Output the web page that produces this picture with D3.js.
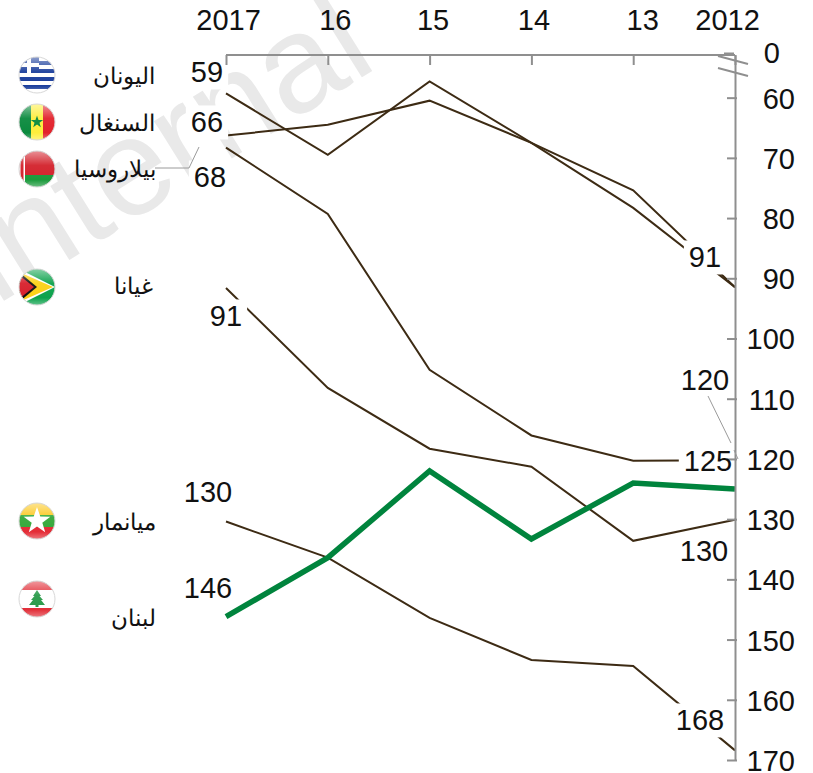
<!DOCTYPE html>
<html lang="ar">
<head>
<meta charset="UTF-8">
<title>chart</title>
<script src="https://cdnjs.cloudflare.com/ajax/libs/d3/7.8.5/d3.min.js"></script>
<style>
    html, body { margin: 0; padding: 0; background: #fff; }
    svg { display: block; }
    text { font-family: "Liberation Sans", Arial, sans-serif; fill: #111; }
</style>
</head>
<body>
<svg width="813" height="773"></svg>
<script>
    const years = ["2017", "16", "15", "14", "13", "2012"];
    const yTicks = [0, 60, 70, 80, 90, 100, 110, 120, 130, 140, 150, 160, 170];

    const greece = [59.3, 69.5, 57.3, 67.5, 75.4, 91.5];
    const senegal = [66.3, 64.5, 60.5, 67.5, 78.3, 91.5];
    const belarus = [68.3, 79.3, 105.2, 116.1, 120.3, 120.2];
    const guyana = [91.6, 108.2, 118.3, 121.3, 133.6, 130.1];
    const myanmar = [130.4, 136.4, 146.4, 153.4, 154.4, 168.4];
    const lebanon = [146.2, 136.4, 122, 133.3, 124, 125];

    const countries = ["اليونان", "السنغال", "بيلاروسيا", "غيانا", "ميانمار", "لبنان"];
    const startLabels = ["59", "66", "68", "91", "130", "146"];
    const endLabels = ["91", "120", "125", "130", "168"];

    const svg = d3.select("svg");

    const x = d3.scalePoint().domain(years).range([226, 735]);
    // axis is broken between 0 and about 53
    const y = d3.scaleLinear().domain([0, 53, 170]).range([55, 55.5, 760]);

    // watermark
    svg.append("text")
        .attr("transform", "translate(380,66) rotate(-32)")
        .attr("text-anchor", "end")
        .attr("font-size", 138)
        .style("fill", "#e9e9e9")
        .text("internal");

    const line = d3.line().x((d, i) => x(years[i])).y(d => y(d));

    svg.append("g").selectAll("path")
        .data([greece, senegal, belarus, guyana, myanmar])
        .enter().append("path")
        .attr("d", line)
        .attr("fill", "none")
        .attr("stroke", "#3d2b14")
        .attr("stroke-width", 2);

    svg.append("path")
        .attr("d", line(lebanon))
        .attr("fill", "none")
        .attr("stroke", "#00843d")
        .attr("stroke-width", 5.5);

    // value labels sit on white boxes which cut the lines
    const labelPos = [
        [207, 72], [207, 122], [210, 177], [226, 316], [208, 492], [208, 588],
        [705, 257], [705, 380], [708, 461], [704, 551], [700, 720]
    ];
    const boxes = svg.append("g");
    const axisG = svg.append("g");
    const labels = svg.append("g").selectAll("text")
        .data(startLabels.concat(endLabels))
        .enter().append("text")
        .attr("x", (d, i) => labelPos[i][0])
        .attr("y", (d, i) => labelPos[i][1])
        .attr("dy", "0.36em")
        .attr("text-anchor", "middle")
        .attr("font-size", 29)
        .text(d => d);

    labels.each(function() {
        const b = this.getBBox();
        boxes.append("rect")
            .attr("x", b.x - 5).attr("y", b.y - 1)
            .attr("width", b.width + 10).attr("height", b.height + 2)
            .attr("fill", "#fff");
    });

    // axes
    const topAxis = axisG.append("g")
        .attr("transform", "translate(0,55)")
        .call(d3.axisBottom(x).tickSize(10).tickSizeOuter(0));
    const rightAxis = axisG.append("g")
        .attr("transform", "translate(735,0)")
        .call(d3.axisRight(y).tickValues(yTicks).tickSize(0).tickSizeOuter(0));

    axisG.selectAll(".domain").attr("stroke", "#8f8f8f").attr("stroke-width", 2);
    axisG.selectAll(".tick line").attr("stroke", "#8f8f8f").attr("stroke-width", 2);
    axisG.selectAll("text").attr("font-size", 29).attr("font-family", null).style("fill", "#111");

    const yearShift = { "2017": 2, "16": 7, "15": 3, "14": 2, "13": 9, "2012": -8 };
    topAxis.select(".domain").attr("d", "M" + x("2017") + ",0H" + x("2012"));
    topAxis.selectAll(".tick text")
        .attr("y", -35)
        .attr("dy", "0.36em")
        .attr("dx", d => yearShift[d]);

    rightAxis.selectAll(".tick line").attr("x1", 2).attr("x2", -8);
    rightAxis.selectAll(".tick text")
        .attr("x", d => d === 0 ? 45 : 60)
        .attr("text-anchor", "end")
        .attr("dy", "0.36em");

    // the 0 tick sits a little above the axis line, with its label
    const zeroTick = rightAxis.selectAll(".tick").filter(d => d === 0);
    zeroTick.select("line").attr("x1", -11).attr("x2", -1).attr("y1", -2).attr("y2", -2);
    zeroTick.select("text").attr("dy", "0.26em");

    // break marks on the axis
    const breakLines = [[[718, 56], [748, 64]], [[718, 68], [748, 76]]];
    svg.append("g").selectAll("line")
        .data(breakLines).enter().append("line")
        .attr("x1", d => d[0][0]).attr("y1", d => d[0][1])
        .attr("x2", d => d[1][0]).attr("y2", d => d[1][1])
        .attr("stroke", "#8f8f8f").attr("stroke-width", 2);

    // leader lines
    const leaders = [
        [[199, 147], [189, 168], [155, 168]],
        [[708, 396], [731, 443]],
        [[734, 450], [738, 459]]
    ];
    svg.append("g").selectAll("path")
        .data(leaders).enter().append("path")
        .attr("d", d3.line())
        .attr("fill", "none")
        .attr("stroke", "#9a9a9a")
        .attr("stroke-width", 1);

    // country names
    const namePos = [[155, 75], [155, 122], [156, 168], [153, 285], [156, 521], [156, 617]];
    svg.append("g").selectAll("text")
        .data(countries).enter().append("text")
        .attr("x", (d, i) => namePos[i][0])
        .attr("y", (d, i) => namePos[i][1])
        .attr("dy", "0.38em")
        .attr("text-anchor", "start")
        .attr("direction", "rtl")
        .attr("font-size", 23)
        .text(d => d);

    // flags
    const defs = svg.append("defs");
    defs.append("clipPath").attr("id", "disc").append("circle").attr("r", 18);
    const gloss = defs.append("linearGradient").attr("id", "gloss")
        .attr("x1", 0).attr("y1", 0).attr("x2", 0).attr("y2", 1);
    gloss.append("stop").attr("offset", 0).attr("stop-color", "#fff").attr("stop-opacity", 0.5);
    gloss.append("stop").attr("offset", 0.4).attr("stop-color", "#fff").attr("stop-opacity", 0.05);
    gloss.append("stop").attr("offset", 0.8).attr("stop-color", "#fff").attr("stop-opacity", 0);
    gloss.append("stop").attr("offset", 1).attr("stop-color", "#fff").attr("stop-opacity", 0.35);

    function star(r) {
        return d3.range(10).map(i => {
            const a = -Math.PI / 2 + i * Math.PI / 5, q = i % 2 ? r * 0.4 : r;
            return [q * Math.cos(a), q * Math.sin(a)];
        }).join(" ");
    }

    const flags = {
        greece(g) {
            g.append("rect").attr("x", -18).attr("y", -18).attr("width", 36).attr("height", 36).attr("fill", "#fff");
            [-14, -6, 2, 10].forEach(t => g.append("rect").attr("x", -18).attr("y", t).attr("width", 36).attr("height", 4).attr("fill", "#1c3f9c"));
            g.append("rect").attr("x", -18).attr("y", -18).attr("width", 20).attr("height", 16).attr("fill", "#1c3f9c");
            g.append("rect").attr("x", -18).attr("y", -12).attr("width", 20).attr("height", 4).attr("fill", "#fff");
            g.append("rect").attr("x", -10).attr("y", -18).attr("width", 4).attr("height", 16).attr("fill", "#fff");
        },
        senegal(g) {
            g.append("rect").attr("x", -18).attr("y", -18).attr("width", 13).attr("height", 36).attr("fill", "#0b8a3e");
            g.append("rect").attr("x", -6).attr("y", -18).attr("width", 12).attr("height", 36).attr("fill", "#fdee3c");
            g.append("rect").attr("x", 6).attr("y", -18).attr("width", 12).attr("height", 36).attr("fill", "#e2222c");
            g.append("polygon").attr("points", star(6.5)).attr("fill", "#0b8a3e");
        },
        belarus(g) {
            g.append("rect").attr("x", -18).attr("y", -18).attr("width", 36).attr("height", 24).attr("fill", "#d3222c");
            g.append("rect").attr("x", -18).attr("y", 6).attr("width", 36).attr("height", 12).attr("fill", "#1b9a3c");
            g.append("rect").attr("x", -18).attr("y", -18).attr("width", 6).attr("height", 36).attr("fill", "#fff");
            g.append("rect").attr("x", -16.5).attr("y", -18).attr("width", 3).attr("height", 36).attr("fill", "#d3222c");
        },
        guyana(g) {
            g.append("rect").attr("x", -18).attr("y", -18).attr("width", 36).attr("height", 36).attr("fill", "#0ca24c");
            g.append("polygon").attr("points", "-18,-18 18,0 -18,18").attr("fill", "#fff");
            g.append("polygon").attr("points", "-18,-15 16,0 -18,15").attr("fill", "#fcd116");
            g.append("polygon").attr("points", "-18,-15 0,0 -18,15").attr("fill", "#111");
            g.append("polygon").attr("points", "-18,-12 -3,0 -18,12").attr("fill", "#d8202c");
        },
        myanmar(g) {
            g.append("rect").attr("x", -18).attr("y", -18).attr("width", 36).attr("height", 12).attr("fill", "#fcc820");
            g.append("rect").attr("x", -18).attr("y", -6).attr("width", 36).attr("height", 12).attr("fill", "#35a83a");
            g.append("rect").attr("x", -18).attr("y", 6).attr("width", 36).attr("height", 12).attr("fill", "#e42c36");
            g.append("polygon").attr("points", star(14)).attr("fill", "#fff");
        },
        lebanon(g) {
            g.append("rect").attr("x", -18).attr("y", -18).attr("width", 36).attr("height", 36).attr("fill", "#fff");
            g.append("rect").attr("x", -18).attr("y", -18).attr("width", 36).attr("height", 9).attr("fill", "#e2303a");
            g.append("rect").attr("x", -18).attr("y", 9).attr("width", 36).attr("height", 9).attr("fill", "#e2303a");
            g.append("polygon").attr("points", "0,-9 4,-3 2.5,-3 6,1 4,1 8,6 1.5,6 1.5,8 -1.5,8 -1.5,6 -8,6 -4,1 -6,1 -2.5,-3 -4,-3").attr("fill", "#2a9a4a");
        }
    };

    const flagRows = [["greece", 75], ["senegal", 122], ["belarus", 169], ["guyana", 287], ["myanmar", 521], ["lebanon", 599]];
    flagRows.forEach(([name, cy]) => {
        const g = svg.append("g").attr("transform", "translate(37," + cy + ")");
        const inner = g.append("g").attr("clip-path", "url(#disc)");
        flags[name](inner);
        g.append("circle").attr("r", 18).attr("fill", "url(#gloss)").attr("stroke", "#d8d8d8").attr("stroke-width", 1);
    });
</script>
</body>
</html>
